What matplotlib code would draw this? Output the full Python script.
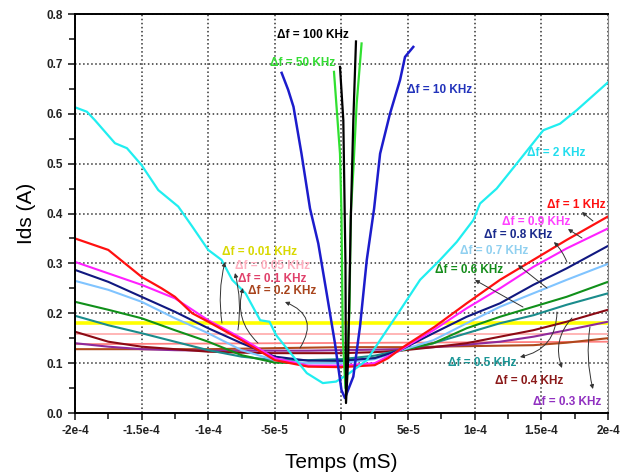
import matplotlib
matplotlib.use('Agg')
import matplotlib.pyplot as plt
from matplotlib.ticker import MultipleLocator

plt.rcParams['font.family'] = ['Liberation Sans', 'DejaVu Sans']

# time axis in units of 1e-4 mS
t_100k = [-0.011, 0.014, 0.03, 0.034, 0.05, 0.07, 0.089, 0.109]
i_100k = [0.694, 0.587, 0.30, 0.02, 0.106, 0.387, 0.587, 0.745]

t_50k = [-0.056, -0.011, 0.0, 0.01, 0.03, 0.05, 0.06, 0.07, 0.089, 0.114, 0.151]
i_50k = [0.684, 0.52, 0.40, 0.15, 0.05, 0.15, 0.206, 0.40, 0.487, 0.62, 0.741]

t_10k = [-0.449, -0.40, -0.36, -0.30, -0.236, -0.174, -0.111, -0.049, 0.0, 0.026,
         0.089, 0.139, 0.19, 0.245, 0.29, 0.364, 0.44, 0.477, 0.539]
i_10k = [0.682, 0.648, 0.614, 0.52, 0.41, 0.34, 0.24, 0.14, 0.046, 0.03,
         0.073, 0.173, 0.307, 0.41, 0.52, 0.60, 0.668, 0.714, 0.734]

t_2k = [-2.0, -1.91, -1.85, -1.70, -1.61, -1.50, -1.375, -1.225, -1.12, -1.0, -0.9,
        -0.82, -0.72, -0.61, -0.54, -0.49, -0.36, -0.26, -0.14, -0.04, 0.06, 0.19,
        0.29, 0.44, 0.59, 0.74, 0.865, 0.99, 1.04, 1.165, 1.315, 1.515, 1.64, 1.765, 2.0]
i_2k = [0.613, 0.604, 0.587, 0.541, 0.531, 0.497, 0.447, 0.414, 0.374, 0.327, 0.307,
        0.267, 0.24, 0.186, 0.183, 0.156, 0.113, 0.08, 0.06, 0.063, 0.08, 0.106,
        0.146, 0.206, 0.267, 0.307, 0.343, 0.387, 0.42, 0.45, 0.50, 0.567, 0.58, 0.607, 0.663]

t_1k = [-2.0, -1.75, -1.5, -1.35, -1.25, -1.12, -1.0, -0.75, -0.5, -0.25, 0.0, 0.25,
        0.35, 0.45, 0.7, 0.94, 1.19, 1.44, 1.69, 2.0]
i_1k = [0.35, 0.327, 0.273, 0.25, 0.233, 0.20, 0.183, 0.146, 0.106, 0.093, 0.092, 0.096,
        0.11, 0.13, 0.173, 0.22, 0.267, 0.307, 0.347, 0.394]

t_low = [-2.0, -1.75, -1.5, -1.25, -1.0, -0.75, -0.5, -0.25, 0.0, 0.25, 0.44, 0.69,
         0.94, 1.19, 1.44, 1.69, 2.0]
i_09k = [0.303, 0.28, 0.257, 0.23, 0.186, 0.15, 0.11, 0.095, 0.095, 0.10, 0.126, 0.166,
         0.21, 0.25, 0.293, 0.33, 0.37]
i_08k = [0.287, 0.263, 0.233, 0.203, 0.17, 0.14, 0.113, 0.105, 0.105, 0.11, 0.126, 0.16,
         0.193, 0.22, 0.257, 0.29, 0.335]
i_07k = [0.265, 0.247, 0.223, 0.19, 0.16, 0.126, 0.106, 0.10, 0.10, 0.108, 0.125, 0.146,
         0.18, 0.213, 0.24, 0.267, 0.299]
i_06k = [0.223, 0.207, 0.19, 0.166, 0.143, 0.116, 0.101, 0.10, 0.102, 0.11, 0.125, 0.14,
         0.17, 0.193, 0.213, 0.233, 0.263]
i_05k = [0.195, 0.176, 0.16, 0.143, 0.126, 0.113, 0.106, 0.106, 0.108, 0.115, 0.126, 0.14,
         0.16, 0.18, 0.196, 0.217, 0.24]
i_04k = [0.163, 0.143, 0.133, 0.128, 0.123, 0.121, 0.12, 0.12, 0.12, 0.122, 0.125, 0.132,
         0.14, 0.153, 0.166, 0.183, 0.207]
i_03k = [0.14, 0.133, 0.128, 0.126, 0.125, 0.125, 0.125, 0.125, 0.126, 0.127, 0.128, 0.132,
         0.137, 0.143, 0.153, 0.166, 0.183]
i_02k = [0.128, 0.128, 0.128, 0.128, 0.128, 0.129, 0.13, 0.131, 0.132, 0.132, 0.132, 0.133,
         0.134, 0.135, 0.136, 0.141, 0.15]

t_flat = [-2.0, 2.0]
i_01k = [0.138, 0.143]
i_005k = [0.158, 0.158]
i_001k = [0.18, 0.18]

x_ticks = [-2, -1.5, -1, -0.5, 0, 0.5, 1, 1.5, 2]
x_labels = ['-2e-4', '-1.5e-4', '-1e-4', '-5e-5', '0', '5e-5', '1e-4', '1.5e-4', '2e-4']
y_ticks = [0, 0.1, 0.2, 0.3, 0.4, 0.5, 0.6, 0.7, 0.8]
y_labels = ['0.0', '0.1', '0.2', '0.3', '0.4', '0.5', '0.6', '0.7', '0.8']

fig = plt.figure(figsize=(6.3, 4.75), dpi=100)
ax = fig.add_axes([0.119, 0.1305, 0.846, 0.84])

ax.plot(t_flat, i_001k, c='#ffff00', lw=2.6)
ax.plot(t_flat, i_005k, c='#ffb0b0', lw=1.3)
ax.plot(t_flat, i_01k, c='#ff8080', lw=1.3)
ax.plot(t_low, i_02k, c='#b0481c', lw=1.5)
ax.plot(t_low, i_03k, c='#8e2a9a', lw=1.5)
ax.plot(t_low, i_04k, c='#8b0a14', lw=1.5)
ax.plot(t_low, i_05k, c='#1a8c8c', lw=1.5)
ax.plot(t_low, i_06k, c='#10901a', lw=1.5)
ax.plot(t_low, i_07k, c='#80c4ff', lw=1.5)
ax.plot(t_low, i_08k, c='#101880', lw=1.5)
ax.plot(t_low, i_09k, c='#ff20ff', lw=1.5)
ax.plot(t_1k, i_1k, c='#ff1010', lw=1.6)
ax.plot(t_2k, i_2k, c='#20eef0', lw=1.6)
ax.plot(t_10k, i_10k, c='#1c1ccc', lw=1.8)
ax.plot(t_50k, i_50k, c='#30e030', lw=1.6)
ax.plot(t_100k, i_100k, c='black', lw=1.6)

ax.set_xlim(-2, 2)
ax.set_ylim(0, 0.8)
ax.set_xticks(x_ticks)
ax.set_xticklabels(x_labels, fontweight='bold')
ax.set_yticks(y_ticks)
ax.set_yticklabels(y_labels, fontweight='bold')
ax.xaxis.set_minor_locator(MultipleLocator(0.25))
ax.yaxis.set_minor_locator(MultipleLocator(0.05))
ax.tick_params(which='both', direction='out', labelsize=8.5, width=1.2, colors='#222222')
ax.tick_params(which='major', length=5)
ax.tick_params(which='minor', length=4)
ax.grid(True, which='major', ls=':', c='#333333', lw=1.1)
for s in ['left', 'bottom', 'top']:
    ax.spines[s].set_linewidth(1.4)
ax.spines['right'].set_color('#888888')

ax.set_xlabel('Temps (mS)', fontsize=15, labelpad=12)
ax.set_ylabel('Ids (A)', fontsize=15, labelpad=8)

# pixel position in the picture -> data coords
def px(x, y):
    return ((x - 341.5) / 133.25, (413 - y) / 498.75)

labels = [
    ('Δf = 100 KHz', 277, 35, '#000000'),
    ('Δf = 50 KHz', 270, 63, '#33dd33'),
    ('Δf = 10 KHz', 407, 90, '#2233bb'),
    ('Δf = 2 KHz', 527, 153, '#22ddee'),
    ('Δf = 1 KHz', 547, 205, '#ff1010'),
    ('Δf = 0.9 KHz', 502, 222, '#ff40ff'),
    ('Δf = 0.8 KHz', 484, 235, '#1a2a8c'),
    ('Δf = 0.7 KHz', 460, 251, '#90d0f0'),
    ('Δf = 0.6 KHz', 435, 270, '#148c1a'),
    ('Δf = 0.5 KHz', 448, 363, '#1a9696'),
    ('Δf = 0.4 KHz', 495, 381, '#8b1a1a'),
    ('Δf = 0.3 KHz', 533, 402, '#9030c0'),
    ('Δf = 0.01 KHz', 222, 252, '#d8d800'),
    ('Δf = 0.05 KHz', 235, 266, '#ffb0c0'),
    ('Δf = 0.1 KHz', 238, 279, '#e0406a'),
    ('Δf = 0.2 KHz', 248, 291, '#a8441c'),
]
for txt, x, y, col in labels:
    xd, yd = px(x, y)
    ax.text(xd, yd, txt, color=col, fontsize=8.5, fontweight='bold', va='center', ha='left')

# arrows: (tail on curve) -> (head near label)
arrows = [
    (593, 221, 582, 212, 0.0),
    (582, 238, 568, 229, 0.0),
    (567, 262, 554, 242, 0.1),
    (547, 288, 518, 265, 0.0),
    (523, 307, 475, 280, 0.0),
    (557, 312, 520, 357, -0.4),
    (572, 318, 562, 368, 0.3),
    (590, 327, 593, 389, 0.1),
    (222, 323, 225, 262, -0.1),
    (238, 330, 235, 273, 0.1),
    (258, 343, 243, 288, -0.3),
    (300, 348, 285, 302, 0.6),
]
for x1, y1, x2, y2, rad in arrows:
    ax.annotate('', xy=px(x2, y2), xytext=px(x1, y1),
                arrowprops=dict(arrowstyle='-|>', color='#333333', lw=0.7,
                                mutation_scale=6, shrinkA=0, shrinkB=0,
                                connectionstyle='arc3,rad=%s' % rad))

fig.savefig('out.png', dpi=100)
